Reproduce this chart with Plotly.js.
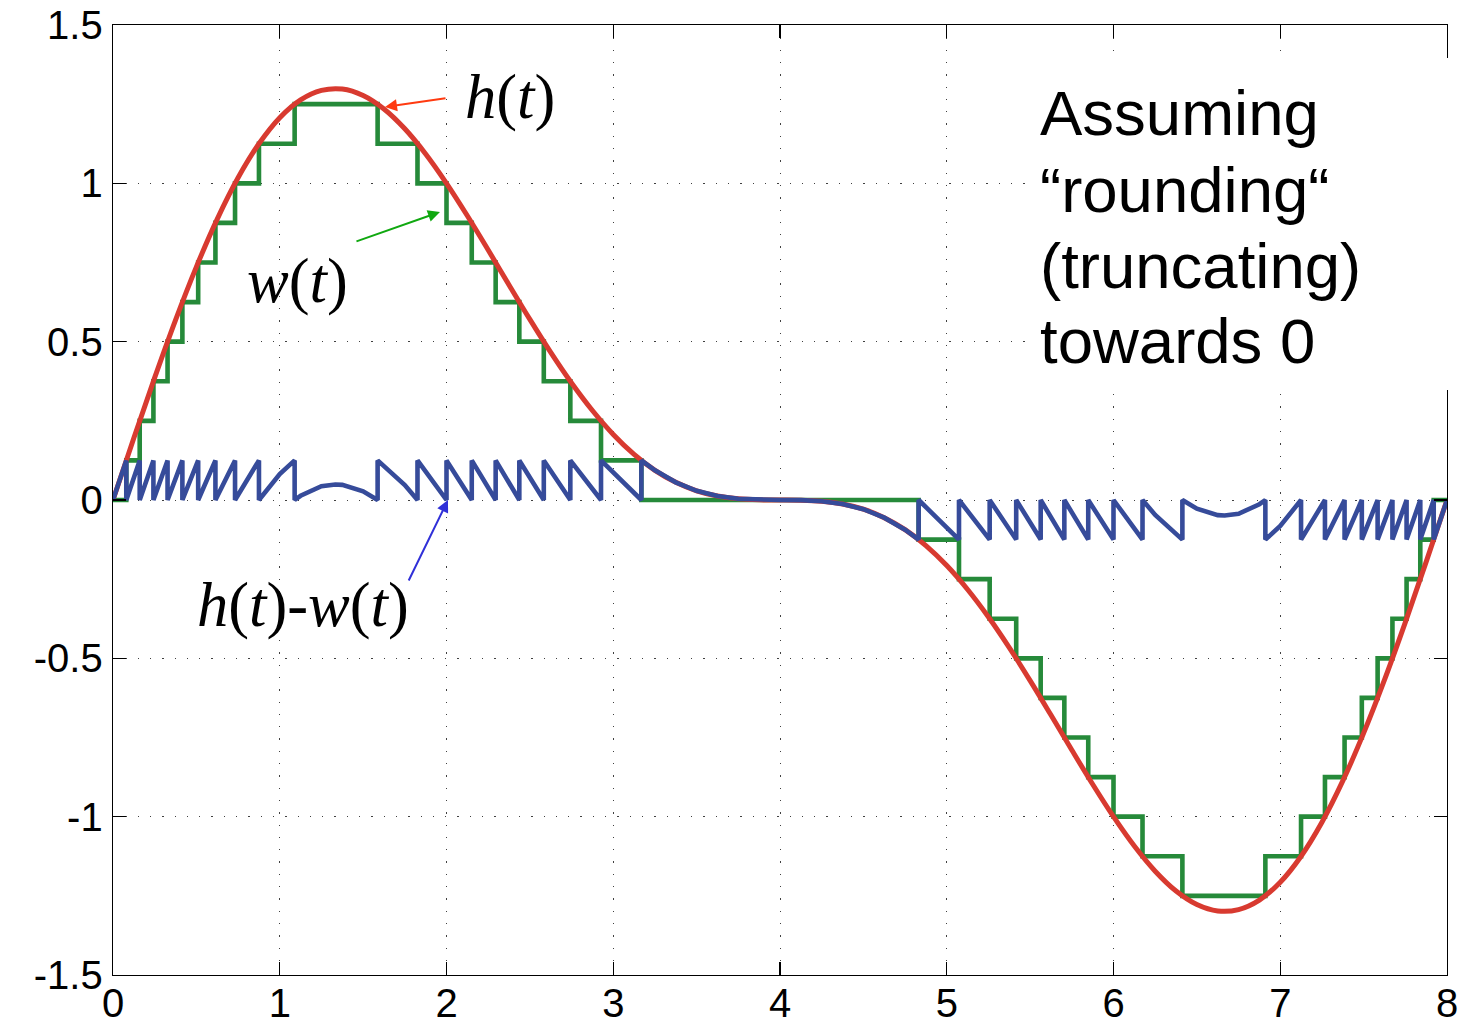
<!DOCTYPE html>
<html><head><meta charset="utf-8">
<script src="https://cdn.plot.ly/plotly-3.0.1.min.js"></script>
<style>html,body{margin:0;padding:0;background:#fff}#chart{width:1463px;height:1026px}</style>
</head><body><div id="chart"></div>
<script>
// h(t): the continuous signal (red)
const tH = [0,0.125,0.25,0.375,0.5,0.625,0.75,0.875,1,1.125,1.25,1.375,1.5,1.625,1.75,1.875,
  2,2.125,2.25,2.375,2.5,2.625,2.75,2.875,3,3.125,3.25,3.375,3.5,3.625,3.75,3.875,
  4,4.125,4.25,4.375,4.5,4.625,4.75,4.875,5,5.125,5.25,5.375,5.5,5.625,5.75,5.875,
  6,6.125,6.25,6.375,6.5,6.625,6.75,6.875,7,7.125,7.25,7.375,7.5,7.625,7.75,7.875,8];
const hVals = [0,0.1956,0.3864,0.5681,0.7362,0.8871,1.0175,1.1248,1.2071,1.2634,1.2934,1.2977,1.2774,1.2347,1.1721,1.0927,
  1.0,0.8976,0.7895,0.6792,0.5703,0.4662,0.3695,0.2826,0.2071,0.1440,0.0936,0.0557,0.0291,0.0125,0.0038,0.0005,
  0,-0.0005,-0.0038,-0.0125,-0.0291,-0.0557,-0.0936,-0.1440,-0.2071,-0.2826,-0.3695,-0.4662,-0.5703,-0.6792,-0.7895,-0.8976,
  -1.0,-1.0927,-1.1721,-1.2347,-1.2774,-1.2977,-1.2934,-1.2634,-1.2071,-1.1248,-1.0175,-0.8871,-0.7362,-0.5681,-0.3864,-0.1956,0];

// w(t): quantized signal (green) - step times and levels
const wT = [0,0.0797,0.1602,0.2424,0.3272,0.4161,0.5108,0.6143,0.7319,0.8753,1.0893,1.5869,1.826,2.0,2.1515,2.2948,2.4367,2.5835,2.7426,2.9266,3.1686,
  4.8314,5.0734,5.2574,5.4165,5.5633,5.7052,5.8485,6.0,6.174,6.4131,6.9107,7.1247,7.2681,7.3857,7.4892,7.5839,7.6728,7.7576,7.8398,7.9203,8];
const wLevel = [0,0.125,0.25,0.375,0.5,0.625,0.75,0.875,1.0,1.125,1.25,1.125,1.0,0.875,0.75,0.625,0.5,0.375,0.25,0.125,0,
  -0.125,-0.25,-0.375,-0.5,-0.625,-0.75,-0.875,-1.0,-1.125,-1.25,-1.125,-1.0,-0.875,-0.75,-0.625,-0.5,-0.375,-0.25,-0.125,0,0];

// h(t)-w(t): quantization error (blue)
const errT = [0,0.0797,0.0797,0.1602,0.1602,0.2424,0.2424,0.3272,0.3272,0.4161,0.4161,0.5108,0.5108,0.6143,0.6143,0.7319,0.7319,0.8753,0.8753,1.0,
  1.0893,1.0893,1.125,1.25,1.3333,1.375,1.5,1.5869,1.5869,1.75,1.826,1.826,2.0,2.0,2.1515,2.1515,2.2948,2.2948,2.4367,2.4367,
  2.5835,2.5835,2.7426,2.7426,2.9266,2.9266,3.1686,3.1686,3.25,3.375,3.5,3.625,3.75,3.875,4,
  4.125,4.25,4.375,4.5,4.625,4.75,4.8314,4.8314,5.0734,5.0734,5.2574,5.2574,5.4165,5.4165,5.5633,5.5633,5.7052,5.7052,
  5.8485,5.8485,6.0,6.0,6.174,6.174,6.25,6.4131,6.4131,6.5,6.625,6.6667,6.75,6.875,6.9107,6.9107,7.0,7.1247,7.1247,
  7.2681,7.2681,7.3857,7.3857,7.4892,7.4892,7.5839,7.5839,7.6728,7.6728,7.7576,7.7576,7.8398,7.8398,7.9203,7.9203,8];
const errV = [0,0.125,0,0.125,0,0.125,0,0.125,0,0.125,0,0.125,0,0.125,0,0.125,0,0.125,0,0.0821,
  0.125,0,0.0134,0.0434,0.049,0.0477,0.0274,0,0.125,0.0471,0,0.125,0,0.125,0,0.125,0,0.125,0,0.125,
  0,0.125,0,0.125,0,0.125,0,0.125,0.0936,0.0557,0.0291,0.0125,0.0038,0.0005,0,
  -0.0005,-0.0038,-0.0125,-0.0291,-0.0557,-0.0936,-0.125,0,-0.125,0,-0.125,0,-0.125,0,-0.125,0,-0.125,0,
  -0.125,0,-0.125,0,-0.125,0,-0.0471,-0.125,0,-0.0274,-0.0477,-0.049,-0.0434,-0.0134,0,-0.125,-0.0821,0,-0.125,
  0,-0.125,0,-0.125,0,-0.125,0,-0.125,0,-0.125,0,-0.125,0,-0.125,0,-0.125,0];

const xTickVals = [0,1,2,3,4,5,6,7,8];
const xTickText = ["0","1","2","3","4","5","6","7","8"];
const yTickVals = [-1.5,-1,-0.5,0,0.5,1,1.5];
const yTickText = ["-1.5","-1","-0.5","0","0.5","1","1.5"];
const noteLines = ["Assuming","\u201Crounding\u201C","(truncating)","towards 0"];
const curveLabels = ["<i>h</i>(<i>t</i>)","<i>w</i>(<i>t</i>)","<i>h</i>(<i>t</i>)-<i>w</i>(<i>t</i>)"];

const traces = [
  {x: wT, y: wLevel, mode: 'lines', line: {color: '#268a3a', width: 4.6, shape: 'hv'}, hoverinfo: 'skip'},
  {x: tH, y: hVals, mode: 'lines', line: {color: '#d83a30', width: 5, shape: 'spline', smoothing: 1}, hoverinfo: 'skip'},
  {x: errT, y: errV, mode: 'lines', line: {color: '#364b9a', width: 4.6}, hoverinfo: 'skip'}
];

const sans = 'Liberation Sans, Arial, Helvetica, sans-serif';
const serif = 'Liberation Serif, Times New Roman, serif';
const axisCommon = {
  showline: true, linecolor: '#000', linewidth: 1.3, mirror: 'ticks',
  ticks: 'inside', ticklen: 13, tickwidth: 1.3, tickcolor: '#000',
  showgrid: true, gridcolor: 'rgba(0,0,0,0.75)', gridwidth: 1, griddash: '1.3px,11px',
  zeroline: false, tickmode: 'array', tickfont: {family: sans, size: 40, color: '#000'}
};

const noteY = [0.9074, 0.8263, 0.7463, 0.6674];
const annotations = noteLines.map((s, i) => ({
  text: s, xref: 'paper', yref: 'paper', x: 0.6934, y: noteY[i], xanchor: 'left', yanchor: 'middle',
  showarrow: false, font: {family: sans, size: 63.5, color: '#000'}
}));
const labelPos = [[0.2976, 0.9242], [0.1383, 0.7305], [0.1421, 0.3895]];
curveLabels.forEach((s, i) => annotations.push({
  text: s, xref: 'paper', yref: 'paper', x: labelPos[i][0], y: labelPos[i][1], xanchor: 'center', yanchor: 'middle',
  showarrow: false, font: {family: serif, size: 62.5, color: '#000'}
}));
const arrows = [
  {x: 0.2039, y: 0.9137, ax: 62, ay: -9, c: '#ff3a10'},
  {x: 0.2451, y: 0.8032, ax: -85, ay: 30, c: '#10a810'},
  {x: 0.2511, y: 0.5000, ax: -40, ay: 82, c: '#3030d8'}
];
arrows.forEach(a => annotations.push({
  text: '', xref: 'paper', yref: 'paper', x: a.x, y: a.y, ax: a.ax, ay: a.ay,
  showarrow: true, arrowhead: 2, arrowsize: 1.2, arrowwidth: 2, arrowcolor: a.c, standoff: 0
}));

const layout = {
  width: 1463, height: 1026,
  margin: {l: 113, r: 16, t: 25, b: 51, pad: 0},
  paper_bgcolor: '#fff', plot_bgcolor: '#fff',
  showlegend: false,
  xaxis: Object.assign({}, axisCommon, {range: [0, 8], tickvals: xTickVals, ticktext: xTickText, ticklabelstandoff: -7}),
  yaxis: Object.assign({}, axisCommon, {range: [-1.5, 1.5], tickvals: yTickVals, ticktext: yTickText, ticklabelstandoff: 1}),
  shapes: [{type: 'rect', xref: 'paper', yref: 'paper', x0: 0.6837, x1: 1.03, y0: 0.6158, y1: 0.9653,
    fillcolor: '#fff', line: {width: 0}, layer: 'above'}],
  annotations: annotations
};

Plotly.newPlot('chart', traces, layout, {staticPlot: true, displayModeBar: false});
</script>
</body></html>
